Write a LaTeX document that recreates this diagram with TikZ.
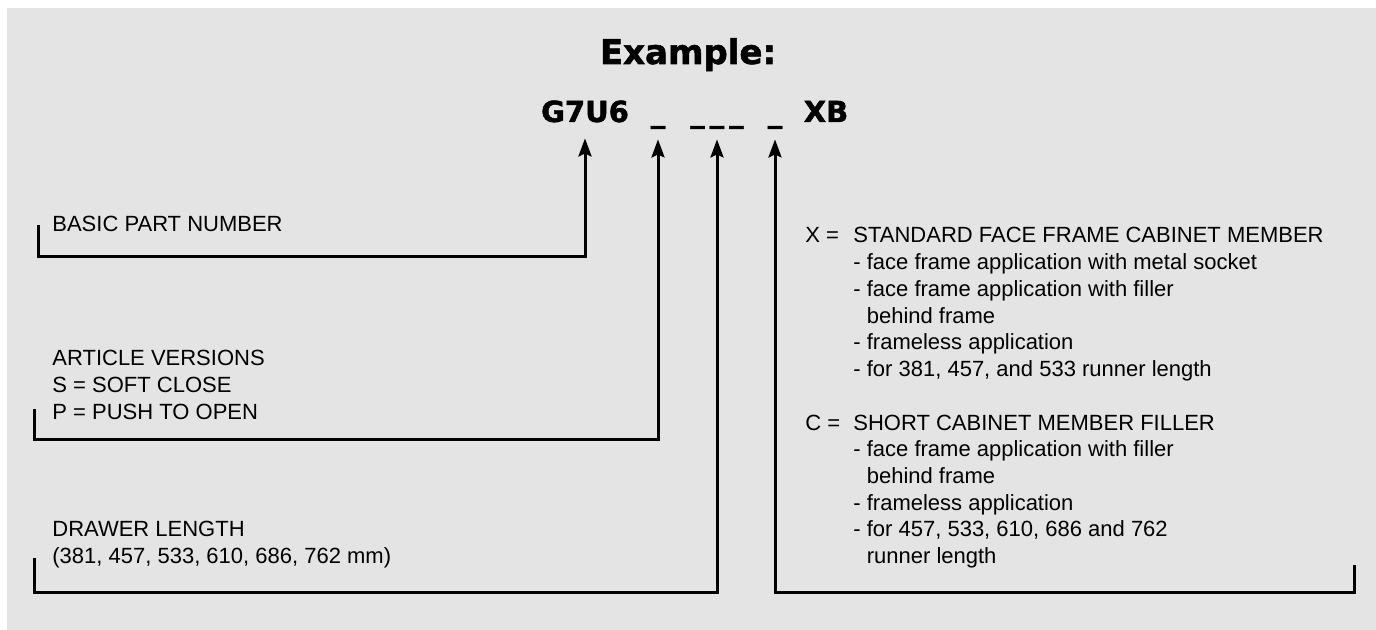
\documentclass[tikz,border=0pt]{standalone}
\usepackage{fontspec}
\setmainfont{Liberation Sans}
\newfontfamily\heavyfont{DejaVu Sans}[BoldFeatures={FakeBold=1.6}]
\usetikzlibrary{arrows.meta}
\definecolor{panelgray}{HTML}{E4E4E4}
\tikzset{
  link/.style={line width=1.5pt, line join=miter},
  pointer/.style={link, -{Stealth[length=9pt,width=6.5pt,inset=1.5pt]}, shorten >=8pt},
  code/.style={inner sep=0pt, text depth=0pt, anchor=base, font=\heavyfont\bfseries\fontsize{14.5}{17}\selectfont},
  note/.style={inner sep=0pt, anchor=base west, font=\fontsize{11}{13.35}\selectfont},
}
\begin{document}
\begin{tikzpicture}[x=0.5pt, y=-0.5pt]
\useasboundingbox (0,0) rectangle (1376,630);
\fill[panelgray] (7,8) rectangle (1376,630);
% part number
\node[code, font=\heavyfont\bfseries\fontsize{17}{20}\selectfont] (title) at (688,64) {Example:};
\node[code] (g7) at (585,122) {G7U6};
\node[code] (s1) at (658,122) {\_};
\node[code] (s2) at (717,122) {\_\kern2.5pt\_\kern2.5pt\_};
\node[code] (s3) at (775,122) {\_};
\node[code] (xb) at (826,122) {XB};
% descriptions
\node[note] (basic) at (52,232) {BASIC PART NUMBER};
\node[note] (versions) at (52,366) {\begin{tabular}[t]{@{}l@{}}
ARTICLE VERSIONS\\
S = SOFT CLOSE\\
P = PUSH TO OPEN\end{tabular}};
\node[note] (length) at (52,537) {\begin{tabular}[t]{@{}l@{}}
DRAWER LENGTH\\
(381, 457, 533, 610, 686, 762 mm)\end{tabular}};
\node[note] (xmember) at (805,243) {\begin{tabular}[t]{@{}p{24pt}@{}l@{}}
X = & STANDARD FACE FRAME CABINET MEMBER\\
 & - face frame application with metal socket\\
 & - face frame application with filler\\
 & \phantom{- }behind frame\\
 & - frameless application\\
 & - for 381, 457, and 533 runner length\end{tabular}};
\node[note] (cmember) at (805,430) {\begin{tabular}[t]{@{}p{24pt}@{}l@{}}
C = & SHORT CABINET MEMBER FILLER\\
 & - face frame application with filler\\
 & \phantom{- }behind frame\\
 & - frameless application\\
 & - for 457, 533, 610, 686 and 762\\
 & \phantom{- }runner length\end{tabular}};
% brackets
\coordinate (t1) at (38,225);   \coordinate (c1) at (38,257);
\coordinate (t2) at (34,409);   \coordinate (c2) at (34,440);
\coordinate (t3) at (34,558);   \coordinate (c3) at (34,592);
\coordinate (t4) at (1354,565); \coordinate (c4) at (1354,592);
\draw[pointer] (t1) -- (c1) -| (g7.south);
\draw[pointer] (t2) -- (c2) -| (s1.south);
\draw[pointer] (t3) -- (c3) -| (s2.south);
\draw[pointer] (t4) -- (c4) -| (s3.south);
\end{tikzpicture}
\end{document}
